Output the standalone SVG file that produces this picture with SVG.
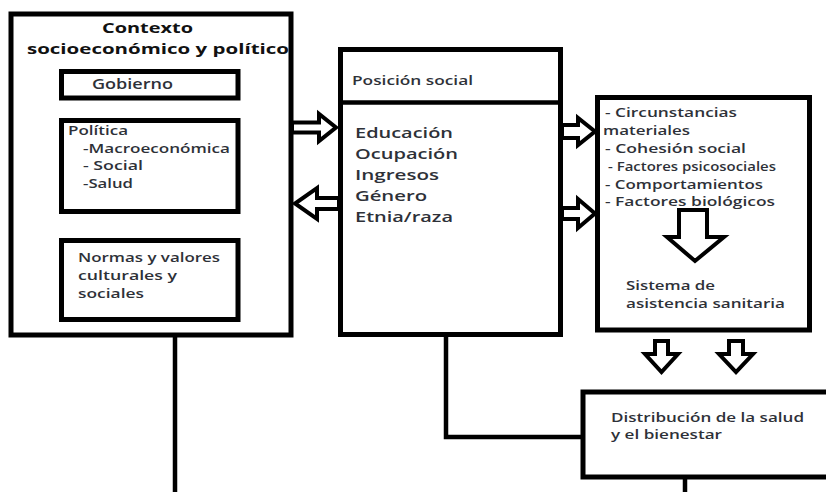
<svg xmlns="http://www.w3.org/2000/svg" width="826" height="492" viewBox="0 0 826 492">
<style>
.box{fill:#fff;stroke:#000;stroke-width:5}
.ibox{fill:none;stroke:#000;stroke-width:5}
.ln{fill:none;stroke:#000;stroke-width:4.5}
.arr{fill:#fff;stroke:#000;stroke-width:4;stroke-linejoin:miter}
text{font-family:"Open Sans","DejaVu Sans",sans-serif;fill:#2e3138;font-weight:600}
.t{font-weight:bold;fill:#111;font-size:15px}
.s12{font-size:12.5px}
.s13{font-size:13px}
.s14{font-size:14px}
.s15{font-size:15px}
</style>
<rect width="826" height="492" fill="#fff"/>
<g id="connectors">
<path class="ln" d="M175 335 V495"/>
<path class="ln" d="M446 334 V437 H583"/>
<path class="ln" d="M685 477 V495"/>
<polygon class="arr" points="292,122.5 319,122.5 319,114 336,127.5 319,141 319,132.5 292,132.5"/>
<polygon class="arr" points="339,198 317,198 317,188 295,203.5 317,219 317,209 339,209"/>
<polygon class="arr" points="562,125 578,125 578,118 595,131.5 578,145 578,138 562,138"/>
<polygon class="arr" points="562,208 578,208 578,199 595,213.5 578,228 578,219 562,219"/>
<polygon class="arr" points="655,341 668,341 668,354 678,354 661.5,372 645,354 655,354"/>
<polygon class="arr" points="729,341 743,341 743,354 753,354 736,372 719,354 729,354"/>
</g>
<g id="contexto">
<rect class="box" x="11" y="14" width="280" height="321"/>
<text class="t" x="102" y="33" textLength="91" lengthAdjust="spacingAndGlyphs">Contexto</text>
<text class="t" x="27" y="54" textLength="262" lengthAdjust="spacingAndGlyphs">socioeconómico y político</text>
</g>
<g id="gobierno">
<rect class="ibox" x="61.5" y="71.5" width="176.5" height="26.5"/>
<text class="s15" x="92" y="89" textLength="81" lengthAdjust="spacingAndGlyphs" font-weight="normal">Gobierno</text>
</g>
<g id="politica">
<rect class="ibox" x="61.5" y="120.5" width="176.5" height="91"/>
<text class="s12" x="68" y="135" textLength="60" lengthAdjust="spacingAndGlyphs">Política</text>
<text class="s12" x="83" y="153" textLength="147" lengthAdjust="spacingAndGlyphs">-Macroeconómica</text>
<text class="s12" x="83" y="170" textLength="60" lengthAdjust="spacingAndGlyphs">- Social</text>
<text class="s12" x="83" y="188" textLength="50" lengthAdjust="spacingAndGlyphs">-Salud</text>
</g>
<g id="normas">
<rect class="ibox" x="61.5" y="240.5" width="176.5" height="79"/>
<text class="s12" x="78" y="262" textLength="142" lengthAdjust="spacingAndGlyphs">Normas y valores</text>
<text class="s12" x="78" y="280" textLength="99" lengthAdjust="spacingAndGlyphs">culturales y</text>
<text class="s12" x="78" y="298" textLength="66" lengthAdjust="spacingAndGlyphs">sociales</text>
</g>
<g id="posicion">
<rect class="box" x="340.5" y="49.5" width="220" height="285"/>
<path class="ln" d="M340.5 102.5 H560.5" stroke-width="5"/>
<text class="s13" x="352" y="85" textLength="121" lengthAdjust="spacingAndGlyphs">Posición social</text>
<text class="s15" x="355" y="138" textLength="98" lengthAdjust="spacingAndGlyphs">Educación</text>
<text class="s15" x="355" y="159" textLength="103" lengthAdjust="spacingAndGlyphs">Ocupación</text>
<text class="s15" x="355" y="180" textLength="84" lengthAdjust="spacingAndGlyphs">Ingresos</text>
<text class="s15" x="355" y="201" textLength="72" lengthAdjust="spacingAndGlyphs">Género</text>
<text class="s15" x="355" y="222" textLength="98" lengthAdjust="spacingAndGlyphs">Etnia/raza</text>
</g>
<g id="circunstancias">
<rect class="box" x="597.5" y="97.5" width="212" height="232.5"/>
<text class="s13" x="605" y="117" textLength="132" lengthAdjust="spacingAndGlyphs">- Circunstancias</text>
<text class="s13" x="603" y="135" textLength="87" lengthAdjust="spacingAndGlyphs">materiales</text>
<text class="s13" x="605" y="153" textLength="141" lengthAdjust="spacingAndGlyphs">- Cohesión social</text>
<text class="s12" x="608" y="171" textLength="168" lengthAdjust="spacingAndGlyphs" font-size="11.5px">- Factores psicosociales</text>
<text class="s13" x="605" y="188.5" textLength="158" lengthAdjust="spacingAndGlyphs">- Comportamientos</text>
<text class="s13" x="605" y="206" textLength="170" lengthAdjust="spacingAndGlyphs">- Factores biológicos</text>
<polygon class="arr" points="679,210 707,210 707,237 724,237 695,261 667,237 679,237"/>
<text class="s13" x="626" y="290" textLength="89" lengthAdjust="spacingAndGlyphs">Sistema de</text>
<text class="s13" x="626" y="308" textLength="159" lengthAdjust="spacingAndGlyphs">asistencia sanitaria</text>
</g>
<g id="distribucion">
<rect class="box" x="583" y="392" width="260" height="85"/>
<text class="s13" x="611" y="422" textLength="193" lengthAdjust="spacingAndGlyphs">Distribución de la salud</text>
<text class="s13" x="611" y="439" textLength="111" lengthAdjust="spacingAndGlyphs">y el bienestar</text>
</g>
</svg>
